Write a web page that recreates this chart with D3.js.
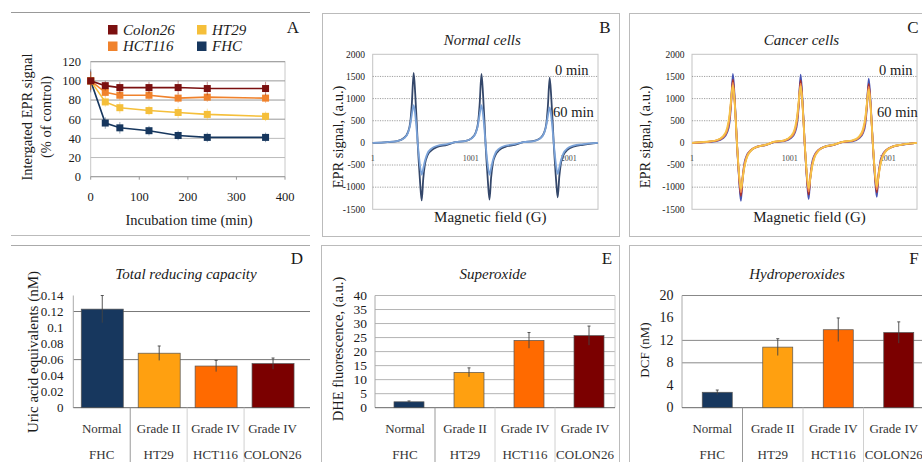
<!DOCTYPE html>
<html>
<head>
<meta charset="utf-8">
<script src="https://cdn.jsdelivr.net/npm/d3@7"></script>
<style>
body { margin: 0; background: #fff; }
</style>
</head>
<body>
<svg id="fig" width="922" height="462" font-family="'Liberation Serif', 'Times New Roman', serif"></svg>
<script>
// ---- Panel A: integrated EPR signal vs incubation time
var times = [0, 30, 60, 120, 180, 240, 360];
var colon26Signal = [100, 95, 93, 93, 93, 92, 92];
var colon26Err = [10, 5, 6, 6, 7, 7, 7];
var hct116Signal = [100, 88, 85, 85, 82, 83, 82];
var hct116Err = [9, 5, 5, 5, 5, 5, 5];
var ht29Signal = [100, 78, 72, 69, 67, 65, 63];
var ht29Err = [9, 5, 6, 5, 6, 6, 5];
var fhcSignal = [100, 56, 51, 48, 43, 41, 41];
var fhcErr = [12, 6, 6, 5, 5, 5, 5];
var timeTicks = [0, 100, 200, 300, 400];
var percentTicks = [0, 20, 40, 60, 80, 100, 120];

// ---- Panels B, C: EPR spectra (signal read at these field points)
var field = [1,
  150, 250, 320, 360, 385, 400, 419, 435, 450, 460, 470, 485, 501, 517, 535, 560, 600, 660, 760,
  842, 942, 1012, 1052, 1077, 1092, 1111, 1127, 1142, 1152, 1162, 1177, 1193, 1209, 1227, 1252, 1292, 1352, 1452,
  1538, 1638, 1708, 1748, 1773, 1788, 1807, 1823, 1838, 1848, 1858, 1873, 1889, 1905, 1923, 1948, 1988, 2048, 2148,
  2300];
var normal0min = [0,
  16, 40, 110, 237, 474, 869, 1580, 1106, 474, 0, -390, -910, -1300, -806, -468, -286, -169, -91, -46,
  16, 39, 109, 234, 468, 858, 1560, 1092, 468, 0, -384, -896, -1280, -794, -461, -282, -166, -90, -45,
  15, 37, 103, 221, 441, 809, 1470, 1029, 441, 0, -369, -861, -1230, -763, -443, -271, -160, -86, -43,
  0];
var normal60min = [0,
  17, 38, 102, 221, 425, 638, 850, 638, 281, 0, -238, -540, -720, -576, -396, -238, -130, -65, -29,
  17, 38, 102, 221, 425, 638, 850, 638, 281, 0, -238, -540, -720, -576, -396, -238, -130, -65, -29,
  16, 36, 96, 208, 400, 600, 800, 600, 264, 0, -231, -525, -700, -560, -385, -231, -126, -63, -28,
  0];
var cancer0min = [0,
  16, 39, 109, 234, 468, 858, 1560, 1092, 468, 0, -393, -917, -1310, -812, -472, -288, -170, -92, -46,
  15, 39, 108, 231, 462, 847, 1540, 1078, 462, 0, -381, -889, -1270, -787, -457, -279, -165, -89, -44,
  15, 36, 102, 218, 435, 798, 1450, 1015, 435, 0, -366, -854, -1220, -756, -439, -268, -159, -85, -43,
  0];
var colon26_60min = [0,
  21, 50, 136, 286, 572, 930, 1430, 1030, 443, 0, -372, -864, -1200, -840, -540, -324, -180, -96, -44,
  21, 49, 134, 282, 564, 917, 1410, 1015, 437, 0, -363, -842, -1170, -819, -527, -316, -176, -94, -43,
  20, 47, 126, 266, 532, 865, 1330, 958, 412, 0, -347, -806, -1120, -784, -504, -302, -168, -90, -41,
  0];
var hct116_60min = [0,
  20, 48, 129, 272, 544, 884, 1360, 979, 422, 0, -347, -806, -1120, -784, -504, -302, -168, -90, -41,
  20, 47, 127, 268, 536, 871, 1340, 965, 415, 0, -341, -792, -1100, -770, -495, -297, -165, -88, -41,
  19, 44, 121, 254, 508, 826, 1270, 914, 394, 0, -326, -756, -1050, -735, -473, -284, -158, -84, -39,
  0];
var ht29_60min = [0,
  26, 59, 156, 338, 650, 975, 1300, 975, 429, 0, -343, -780, -1040, -832, -572, -343, -187, -94, -42,
  26, 58, 154, 333, 640, 960, 1280, 960, 422, 0, -337, -765, -1020, -816, -561, -337, -184, -92, -41,
  24, 54, 144, 312, 600, 900, 1200, 900, 396, 0, -323, -735, -980, -784, -539, -323, -176, -88, -39,
  0];
var eprTicks = [2000, 1500, 1000, 500, 0, -500, -1000, -1500];
var fieldLabels = [1, 1001, 2001];

// ---- Panels D, E, F: bars
var grades = ["Normal", "Grade II", "Grade IV", "Grade IV"];
var cellLines = ["FHC", "HT29", "HCT116", "COLON26"];
var reducing = [0.123, 0.068, 0.052, 0.055];
var reducingErr = [0.017, 0.009, 0.007, 0.007];
var reducingTicks = [0, 0.02, 0.04, 0.06, 0.08, 0.1, 0.12, 0.14];
var superoxide = [2.1, 12.6, 24.0, 25.7];
var superoxideErr = [0.3, 1.6, 2.8, 3.4];
var superoxideTicks = [0, 5, 10, 15, 20, 25, 30, 35, 40];
var peroxide = [2.75, 10.8, 13.9, 13.4];
var peroxideErr = [0.4, 1.5, 2.1, 1.9];
var peroxideTicks = [0, 4, 8, 12, 16, 20];

var barColors = ["#17375e", "#ffa010", "#ff6a00", "#7b0000"];

var svg = d3.select("#fig");
svg.append("rect").attr("width", 922).attr("height", 462).attr("fill", "#fff");

// panel frames
function hline(x1, x2, y, c){
    svg.append("line").attr("x1", x1).attr("x2", x2).attr("y1", y).attr("y2", y)
	.attr("stroke", c || "#aaa");
}
function frame(x, y, w, h){
    svg.append("rect").attr("x", x + 0.5).attr("y", y + 0.5).attr("width", w).attr("height", h)
	.attr("fill", "none").attr("stroke", "#bbb");
}
hline(11, 310, 12.5, "#999");
hline(11, 310, 235.5, "#bbb");
hline(11, 310, 245.5, "#aaa");
frame(322, 13, 297, 223);
frame(629, 13, 300, 223);
frame(321, 245, 298, 230);
frame(629, 245, 300, 230);

function label(g, txt, x, y, size, opts){
    opts = opts || {};
    var t = g.append("text").attr("x", x).attr("y", y)
	.attr("font-size", size)
	.attr("text-anchor", opts.anchor || "middle")
	.attr("fill", opts.fill || "#1a1a1a")
	.text(txt);
    if (opts.italic) t.attr("font-style", "italic");
    if (opts.rotate) t.attr("transform", "rotate(-90," + x + "," + y + ")");
    return t;
}

// ================= Panel A =================
(function(){
    var g = svg.append("g");
    var x = d3.scaleLinear().domain([0, 400]).range([90.7, 285]);
    var y = d3.scaleLinear().domain([0, 120]).range([176.7, 61.7]);

    g.append("rect").attr("x", 90.7).attr("y", 61.7).attr("width", 194.3).attr("height", 115)
	.attr("fill", "none").attr("stroke", "#c8c8c8");
    g.selectAll("line.grid").data(percentTicks.slice(1)).join("line")
	.attr("x1", 90.7).attr("x2", 285)
	.attr("y1", function(d){ return y(d); }).attr("y2", function(d){ return y(d); })
	.attr("stroke", function(d){ return d >= 60 ? "#999" : "#bbb"; });
    g.append("line").attr("x1", 90.7).attr("x2", 285).attr("y1", y(0)).attr("y2", y(0))
	.attr("stroke", "#999");
    g.selectAll("line.tk").data(timeTicks).join("line")
	.attr("x1", function(d){ return x(d); }).attr("x2", function(d){ return x(d); })
	.attr("y1", y(0)).attr("y2", y(0) + 3).attr("stroke", "#999");

    g.selectAll("text.yt").data(percentTicks).join("text")
	.attr("x", 81).attr("y", function(d){ return y(d) + 4.3; })
	.attr("text-anchor", "end").attr("font-size", 12.5).attr("fill", "#1a1a1a")
	.text(function(d){ return d; });
    g.selectAll("text.xt").data(timeTicks).join("text")
	.attr("x", function(d){ return x(d); }).attr("y", 201)
	.attr("text-anchor", "middle").attr("font-size", 12.5).attr("fill", "#1a1a1a")
	.text(function(d){ return d; });

    var series = [
	{name: "FHC", v: fhcSignal, e: fhcErr, c: "#17375e"},
	{name: "HT29", v: ht29Signal, e: ht29Err, c: "#f5bf3a"},
	{name: "HCT116", v: hct116Signal, e: hct116Err, c: "#f0822c"},
	{name: "Colon26", v: colon26Signal, e: colon26Err, c: "#7b1010"}
    ];
    var line = d3.line()
	.x(function(d, i){ return x(times[i]); })
	.y(function(d){ return y(d); });

    series.forEach(function(s){
	var sg = g.append("g");
	sg.selectAll("line.err").data(s.v).join("line")
	    .attr("x1", function(d, i){ return x(times[i]); })
	    .attr("x2", function(d, i){ return x(times[i]); })
	    .attr("y1", function(d, i){ return y(d + s.e[i]); })
	    .attr("y2", function(d, i){ return y(d - s.e[i]); })
	    .attr("stroke", s.c).attr("stroke-opacity", 0.45).attr("stroke-width", 1);
	sg.append("path").attr("d", line(s.v)).attr("fill", "none")
	    .attr("stroke", s.c).attr("stroke-width", 1.6);
	sg.selectAll("rect").data(s.v).join("rect")
	    .attr("x", function(d, i){ return x(times[i]) - 3.5; })
	    .attr("y", function(d){ return y(d) - 3.5; })
	    .attr("width", 7).attr("height", 7).attr("fill", s.c);
    });

    // legend
    var leg = [
	{name: "Colon26", c: "#7b1010", x: 108, y: 25},
	{name: "HT29", c: "#f5bf3a", x: 197, y: 25},
	{name: "HCT116", c: "#f0822c", x: 108, y: 41.5},
	{name: "FHC", c: "#17375e", x: 197, y: 41.5}
    ];
    leg.forEach(function(l){
	g.append("rect").attr("x", l.x).attr("y", l.y).attr("width", 9.5).attr("height", 9.5)
	    .attr("fill", l.c);
	label(g, l.name, l.x + 15, l.y + 9.5, 15, {anchor: "start", italic: true});
    });
    label(g, "A", 293, 33, 17);
    label(g, "Intergated EPR signal", 32, 117, 14.5, {rotate: true});
    label(g, "(% of control)", 51, 117, 14.5, {rotate: true});
    label(g, "Incubation time (min)", 189, 225, 14.5);
})();

// ================= Panels B, C =================
function spectrum(o){
    var g = svg.append("g");
    var x = d3.scaleLinear().domain([1, 2300]).range([o.left, o.right]);
    var y = d3.scaleLinear().domain([-1500, 2000]).range([209.3, 54.3]);

    g.append("rect").attr("x", o.left).attr("y", y(2000))
	.attr("width", o.right - o.left).attr("height", y(-1500) - y(2000))
	.attr("fill", "none").attr("stroke", "#c4c4c4");
    g.selectAll("line.grid").data(eprTicks.filter(function(d){ return d != 2000 && d != -1500; })).join("line")
	.attr("x1", o.left).attr("x2", o.right)
	.attr("y1", function(d){ return y(d); }).attr("y2", function(d){ return y(d); })
	.attr("stroke", function(d){ return d == 0 ? "#999" : "#888"; })
	.attr("stroke-dasharray", function(d){ return d == 0 ? null : "1.2,1.2"; })
	.attr("stroke-width", 0.8);
    g.selectAll("text.yt").data(eprTicks).join("text")
	.attr("x", o.tickX).attr("y", function(d){ return y(d) + 3.3; })
	.attr("text-anchor", "end").attr("font-size", 9.5).attr("fill", "#1a1a1a")
	.text(function(d){ return d; });
    g.selectAll("text.xt").data(fieldLabels).join("text")
	.attr("x", function(d){ return x(d); }).attr("y", y(0) + 18)
	.attr("text-anchor", "middle").attr("font-size", 8)
	.attr("fill", "#444")
	.text(function(d){ return d; });

    var line = d3.line()
	.x(function(d, i){ return x(field[i]); })
	.y(function(d){ return y(d); })
	.curve(d3.curveMonotoneX);
    o.curves.forEach(function(c){
	g.append("path").attr("d", line(c.v)).attr("fill", "none")
	    .attr("stroke", c.c).attr("stroke-width", c.w || 1.5)
	    .attr("stroke-linejoin", "round");
    });

    label(g, o.title, (o.left + o.right) / 2 - 3, 45, 15, {italic: true});
    label(g, o.letter, o.letterX, 33, 17);
    label(g, "0 min", o.minX, 75, 14.5, {anchor: "start"});
    label(g, "60 min", o.minX - 2, 117, 14.5, {anchor: "start"});
    label(g, "EPR signal, (a.u.)", o.ylabX, 137, 14.5, {rotate: true});
    label(g, "Magnetic field (G)", (o.left + o.right) / 2 + 5, 222, 15);
}

spectrum({
    left: 372.7, right: 598, tickX: 365, title: "Normal cells",
    letter: "B", letterX: 605, minX: 555, ylabX: 343,
    curves: [
	{v: normal0min, c: "#34476a", w: 1.8},
	{v: normal60min, c: "#7aa2d8", w: 1.8}
    ]
});
spectrum({
    left: 692, right: 917, tickX: 684.5, title: "Cancer cells",
    letter: "C", letterX: 913, minX: 879, ylabX: 650,
    curves: [
	{v: cancer0min, c: "#4554b4", w: 1.8},
	{v: colon26_60min, c: "#a83030", w: 1.8},
	{v: hct116_60min, c: "#ef8a50", w: 1.8},
	{v: ht29_60min, c: "#f6c44a", w: 1.8}
    ]
});

// ================= Panels D, E, F =================
function bars(o){
    var g = svg.append("g");
    var x = d3.scaleBand().domain(d3.range(cellLines.length)).range([o.left, o.right]);
    var y = d3.scaleLinear().domain([0, o.ticks[o.ticks.length - 1]]).range([407.7, 295.5]);

    g.selectAll("line.grid").data(o.grid).join("line")
	.attr("x1", o.left).attr("x2", o.gridRight)
	.attr("y1", function(d){ return y(d); }).attr("y2", function(d){ return y(d); })
	.attr("stroke", o.gridColor).attr("stroke-width", 1);
    if (o.rightEdge) {
	g.append("line").attr("x1", o.gridRight).attr("x2", o.gridRight)
	    .attr("y1", y.range()[1]).attr("y2", y(0)).attr("stroke", "#ccc");
    }
    g.append("line").attr("x1", o.left).attr("x2", o.left)
	.attr("y1", y.range()[1]).attr("y2", y(0)).attr("stroke", "#aaa");
    g.append("line").attr("x1", o.left).attr("x2", o.gridRight)
	.attr("y1", y(0)).attr("y2", y(0)).attr("stroke", "#666");

    // category separators
    g.selectAll("line.sep").data([1, 2, 3]).join("line")
	.attr("x1", function(d){ return x(d); }).attr("x2", function(d){ return x(d); })
	.attr("y1", y(0)).attr("y2", 470)
	.attr("stroke", function(d){ return d == 1 ? "#999" : "#d0d0d0"; });

    g.selectAll("text.yt").data(o.ticks).join("text")
	.attr("x", o.tickX).attr("y", function(d){ return y(d) + 4.5; })
	.attr("text-anchor", "end").attr("font-size", o.tickSize).attr("fill", "#1a1a1a")
	.text(function(d){ return d; });

    var bw = o.barWidth;
    g.selectAll("rect.bar").data(o.values).join("rect")
	.attr("x", function(d, i){ return x(i) + x.bandwidth() / 2 + o.shift - bw / 2; })
	.attr("y", function(d){ return y(d); })
	.attr("width", bw).attr("height", function(d){ return y(0) - y(d); })
	.attr("fill", function(d, i){ return barColors[i]; })
	.attr("stroke", "#555").attr("stroke-width", 0.7);
    g.selectAll("line.err").data(o.values).join("line")
	.attr("x1", function(d, i){ return x(i) + x.bandwidth() / 2 + o.shift; })
	.attr("x2", function(d, i){ return x(i) + x.bandwidth() / 2 + o.shift; })
	.attr("y1", function(d, i){ return y(d + o.errs[i]); })
	.attr("y2", function(d, i){ return y(d - o.errs[i]); })
	.attr("stroke", "#444").attr("stroke-width", 0.9);
    g.selectAll("line.cap").data(o.values).join("line")
	.attr("x1", function(d, i){ return x(i) + x.bandwidth() / 2 + o.shift - 1.5; })
	.attr("x2", function(d, i){ return x(i) + x.bandwidth() / 2 + o.shift + 1.5; })
	.attr("y1", function(d, i){ return y(d + o.errs[i]); })
	.attr("y2", function(d, i){ return y(d + o.errs[i]); })
	.attr("stroke", "#444").attr("stroke-width", 0.9);

    g.selectAll("text.c1").data(grades).join("text")
	.attr("x", function(d, i){ return x(i) + x.bandwidth() / 2; }).attr("y", 433)
	.attr("text-anchor", "middle").attr("font-size", 13)
	.attr("fill", "#333").text(function(d){ return d; });
    g.selectAll("text.c2").data(cellLines).join("text")
	.attr("x", function(d, i){ return x(i) + x.bandwidth() / 2; }).attr("y", 458.5)
	.attr("text-anchor", "middle").attr("font-size", 13)
	.attr("fill", "#333").text(function(d){ return d; });

    label(g, o.title, o.titleX, 279, 15, {italic: true});
    label(g, o.letter, o.letterX, 264, 17);
    label(g, o.ylab, o.ylabX, o.ylabY, o.ylabSize, {rotate: true});
}

bars({
    left: 73.3, right: 301, gridRight: 310, values: reducing, errs: reducingErr,
    ticks: reducingTicks, grid: [0.06, 0.12], gridColor: "#777",
    tickX: 63.5, tickSize: 13, barWidth: 42, shift: 0.5,
    title: "Total reducing capacity", titleX: 186, letter: "D", letterX: 297,
    ylab: "Uric acid equivalents (nM)", ylabX: 38, ylabY: 352, ylabSize: 15
});
bars({
    left: 375, right: 615, gridRight: 615, values: superoxide, errs: superoxideErr,
    ticks: superoxideTicks, grid: superoxideTicks.slice(1), gridColor: "#b4b4b4", rightEdge: true,
    tickX: 367, tickSize: 13.5, barWidth: 30, shift: 4,
    title: "Superoxide", titleX: 493, letter: "E", letterX: 607,
    ylab: "DHE fluorescence, (a.u.)", ylabX: 343, ylabY: 349, ylabSize: 14.5
});
bars({
    left: 682, right: 924, gridRight: 924, values: peroxide, errs: peroxideErr,
    ticks: peroxideTicks, grid: [8, 12, 20], gridColor: "#888",
    tickX: 673.5, tickSize: 14, barWidth: 30, shift: 5,
    title: "Hydroperoxides", titleX: 797, letter: "F", letterX: 914,
    ylab: "DCF (nM)", ylabX: 649, ylabY: 350, ylabSize: 13
});
</script>
</body>
</html>
